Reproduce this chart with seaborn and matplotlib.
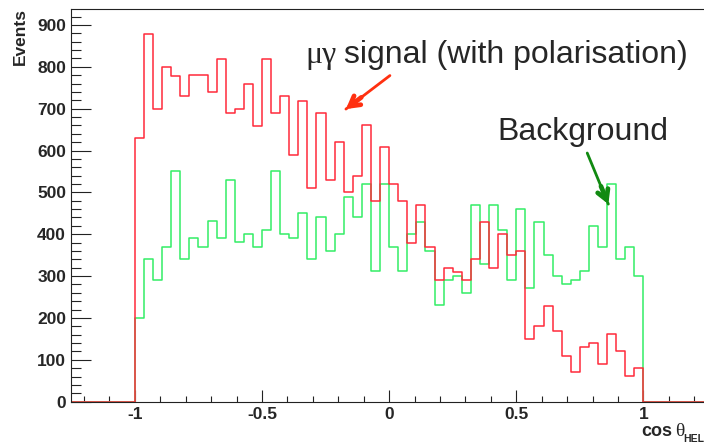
import numpy as np
import pandas as pd
import matplotlib
matplotlib.use("Agg")
import matplotlib.pyplot as plt
import seaborn as sns

# Helicity-angle distributions, 56 bins of equal width on [-1, 1]
signal_counts = [631, 878, 699, 799, 779, 729, 780, 780, 740, 819,
                 689, 699, 759, 659, 819, 689, 729, 590, 719, 510,
                 689, 530, 620, 500, 540, 660, 480, 609, 520, 480,
                 380, 469, 370, 291, 319, 310, 291, 340, 430, 319,
                 400, 350, 360, 150, 181, 229, 170, 110, 70, 130,
                 140, 90, 161, 120, 61, 80]
background_counts = [200, 340, 291, 370, 550, 340, 390, 370, 431, 390,
                     530, 381, 401, 370, 410, 550, 401, 390, 450, 340,
                     441, 361, 401, 490, 441, 520, 311, 520, 370, 311,
                     401, 430, 361, 230, 291, 300, 260, 469, 330, 469,
                     410, 291, 460, 271, 430, 350, 300, 280, 290, 311,
                     420, 370, 520, 340, 370, 300]
x_ticks = [-1, -0.5, 0, 0.5, 1]
x_tick_labels = ["-1", "-0.5", "0", "0.5", "1"]
y_ticks = list(range(0, 901, 100))

n_bins = len(signal_counts)
centers = -1 + (np.arange(n_bins) + 0.5) * 2.0 / n_bins
df = pd.DataFrame({"cos": np.concatenate([centers, centers]),
                   "events": signal_counts + background_counts,
                   "sample": ["signal"] * n_bins + ["background"] * n_bins})

sns.set_style("ticks")
plt.rcParams["font.family"] = ["Liberation Sans", "DejaVu Sans"]
plt.rcParams["axes.unicode_minus"] = False

W, H = 704, 445
fig = plt.figure(figsize=(W / 100, H / 100), dpi=100)
ax = fig.add_axes([71.3 / W, (H - 401.7) / H, (707 - 71.3) / W, (401.7 - 9) / H])

# histogram range extends past the physical region, like the frame
hist_bins = 70
hist_range = (-1.25, 1.25)
sns.histplot(data=df[df["sample"] == "background"], x="cos", weights="events",
             bins=hist_bins, binrange=hist_range, element="step", fill=False,
             color="#33ee66", linewidth=1.1, ax=ax)
sns.histplot(data=df[df["sample"] == "signal"], x="cos", weights="events",
             bins=hist_bins, binrange=hist_range, element="step", fill=False,
             color="#ff2a3a", linewidth=1.1, ax=ax)

ax.set_xlim(-1.25, 1.25)
ax.set_ylim(0, 938)
ax.set_xlabel("")
ax.set_ylabel("")

ax.set_xticks(x_ticks)
ax.set_xticklabels(x_tick_labels)
ax.set_xticks(np.arange(-1.2, 1.25, 0.1), minor=True)
ax.set_yticks(y_ticks)
ax.set_yticks(np.arange(0, 930, 20), minor=True)

for lab in ax.get_xticklabels() + ax.get_yticklabels():
    lab.set_fontweight("bold")
    lab.set_fontsize(12.5)
ax.tick_params(axis="both", which="both", direction="in", color="#222222", width=0.8,
               top=False, right=False)
ax.tick_params(axis="y", which="major", length=14.4, pad=3.8)
ax.tick_params(axis="y", which="minor", length=7.2)
ax.tick_params(axis="x", which="major", length=8.4, pad=3.6)
ax.tick_params(axis="x", which="minor", length=4.1)
for s in ax.spines.values():
    s.set_color("#222222")
    s.set_linewidth(0.8)


def px(x, y):
    return x / W, 1 - y / H


# axis titles in the corners
fig.text(*px(20.5, 8), "Events", rotation=90, ha="center", va="top",
         fontsize=12.5, fontweight="bold")
fig.text(*px(641.5, 436.5), "cos", ha="left", va="baseline",
         fontsize=13, fontweight="bold")
fig.text(*px(675.5, 436.5), "\u03b8", ha="left", va="baseline",
         fontsize=14, family="Liberation Serif")
fig.text(*px(683.5, 442), "HEL", ha="left", va="baseline",
         fontsize=7.5, fontweight="bold")

# annotations
fig.text(*px(305, 63.3), "\u03bc\u03b3", ha="left", va="baseline",
         fontsize=23, family="Liberation Serif")
fig.text(*px(344, 63.3), "signal (with polarisation)", ha="left", va="baseline",
         fontsize=23)
fig.text(*px(497, 140), "Background", ha="left", va="baseline", fontsize=23)

red_tail, red_tip = (0.003, 779), (-0.170, 699)
green_tail, green_tip = (0.779, 594), (0.862, 472)
for tail, tip, col in [(red_tail, red_tip, "#ff3010"), (green_tail, green_tip, "#118a11")]:
    ax.annotate("", xy=tip, xytext=tail,
                arrowprops=dict(arrowstyle="-", color=col, lw=2.0,
                                shrinkA=0, shrinkB=0, capstyle="round"))
    mid = (tip[0] + (tail[0] - tip[0]) * 0.35, tip[1] + (tail[1] - tip[1]) * 0.35)
    ax.annotate("", xy=tip, xytext=mid,
                arrowprops=dict(arrowstyle="->,head_length=0.7,head_width=0.4",
                                color=col, lw=3.4, shrinkA=0, shrinkB=0,
                                joinstyle="round", capstyle="round"))

fig.savefig("out.png", dpi=100)
